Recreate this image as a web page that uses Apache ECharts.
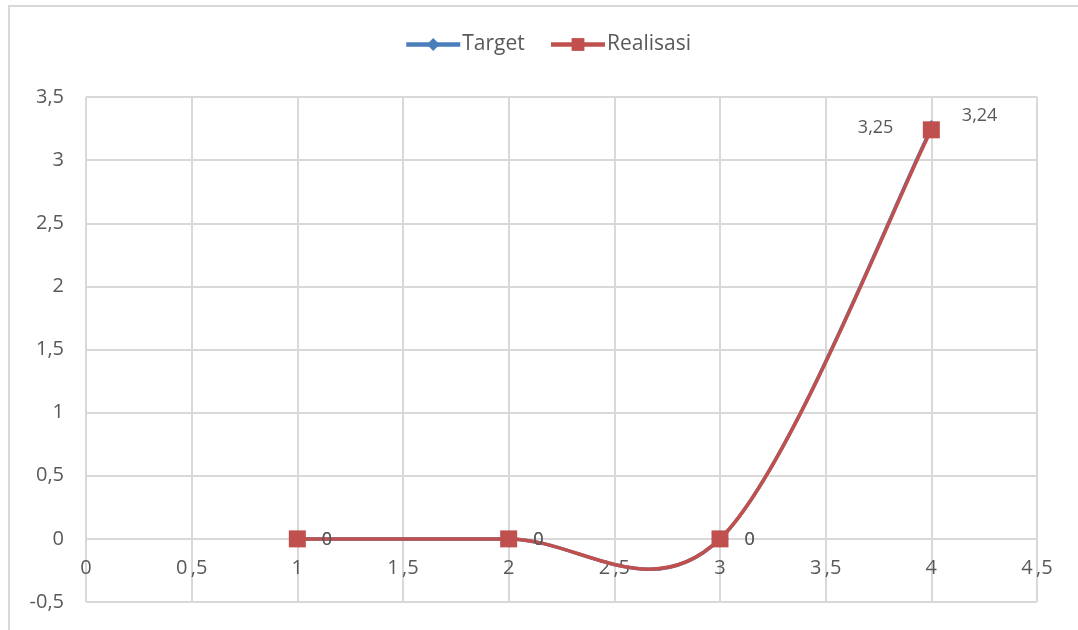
<!DOCTYPE html>
<html><head><meta charset="utf-8">
<script src="https://cdn.jsdelivr.net/npm/echarts@6/dist/echarts.min.js"></script>
<style>html,body{margin:0;padding:0;background:#fff;overflow:hidden}#c{width:1078px;height:630px}
#b{position:absolute;left:8px;top:5px;width:1100px;height:700px;border:2px solid #d9d9d9;box-sizing:border-box;pointer-events:none}</style>
</head><body><div id="c"></div><div id="b"></div>
<script>
const xValues = [1, 2, 3, 4];
const targetValues = [0, 0, 0, 3.25];
const realisasiValues = [0, 0, 0, 3.24];
const seriesNames = ['Target', 'Realisasi'];
const colors = ['#4a7ebb', '#c0504d'];

const fmt = v => String(v).replace('.', ',');
const fmtX = v => String(v).replace('.', '\u2009,');
const txt = '#595959';
const font = 'Open Sans';

const gridTop = 97, gridBottom = 28, chartH = 630;
const yMin = -0.5, yMax = 3.5;
// distance from the bottom edge (yMin) up to the zero line, in px
const zeroOffset = (chartH - gridTop - gridBottom) * (0 - yMin) / (yMax - yMin);

// Excel-style smoothed segment between data points i and i+1 (control points from neighbours)
function curveSeries(name, values, color, z) {
  return {
    name: name + ' curve', type: 'custom', coordinateSystem: 'cartesian2d',
    data: xValues.map((x, i) => [x, values[i]]),
    encode: { x: 0, y: 1 }, z: z, silent: true,
    renderItem: (params, api) => {
      const i = params.dataIndex, n = xValues.length;
      if (i >= n - 1) return null;
      const P = k => api.coord([xValues[Math.max(0, Math.min(n - 1, k))], values[Math.max(0, Math.min(n - 1, k))]]);
      const p0 = P(i - 1), p1 = P(i), p2 = P(i + 1), p3 = P(i + 2);
      return {
        type: 'bezierCurve',
        shape: {
          x1: p1[0], y1: p1[1], x2: p2[0], y2: p2[1],
          cpx1: p1[0] + (p2[0] - p0[0]) / 6, cpy1: p1[1] + (p2[1] - p0[1]) / 6,
          cpx2: p2[0] - (p3[0] - p1[0]) / 6, cpy2: p2[1] - (p3[1] - p1[1]) / 6
        },
        style: { stroke: color, lineWidth: 3.5, fill: null, lineCap: 'round' }
      };
    }
  };
}

const chart = echarts.init(document.getElementById('c'));
chart.setOption({
  animation: false,
  textStyle: { fontFamily: font },
  legend: {
    top: 29, left: 399, itemWidth: 54, itemHeight: 16, itemGap: 24,
    textStyle: { fontSize: 21, color: txt, fontFamily: font, padding: [0, 0, 0, -3] },
    data: seriesNames.map((n, k) => ({ name: n, lineStyle: { opacity: 1, width: 4.5, color: colors[k] } }))
  },
  grid: { left: 86, right: 41, top: gridTop, bottom: gridBottom, outerBoundsMode: 'none' },
  xAxis: {
    type: 'value', min: 0, max: 4.5, interval: 0.5,
    offset: -zeroOffset,
    axisLine: { onZero: false, show: false },
    axisTick: { show: false },
    splitLine: { lineStyle: { color: '#d9d9d9', width: 2 } },
    axisLabel: { color: txt, fontSize: 20, margin: 19, formatter: fmtX, fontFamily: font }
  },
  yAxis: {
    type: 'value', min: yMin, max: yMax, interval: 0.5,
    axisLine: { show: false }, axisTick: { show: false },
    splitLine: { lineStyle: { color: '#d9d9d9', width: 2 } },
    axisLabel: { color: txt, fontSize: 20, margin: 22, formatter: fmt, fontFamily: font }
  },
  series: [
    curveSeries(seriesNames[0], targetValues, colors[0], 2),
    curveSeries(seriesNames[1], realisasiValues, colors[1], 3),
    {
      name: seriesNames[0], type: 'line',
      data: xValues.map((x, i) => [x, targetValues[i]]),
      symbol: 'diamond', symbolSize: 17,
      lineStyle: { color: colors[0], width: 3.5, opacity: 0 },
      itemStyle: { color: colors[0] },
      label: {
        show: true, color: txt, fontSize: 18, fontFamily: font,
        formatter: p => fmt(p.value[1]),
        position: 'right', distance: 16
      },
      labelLayout: p => p.dataIndex === 3 ? { dx: -98, dy: -1 } : { dy: 1 },
      z: 4
    },
    {
      name: seriesNames[1], type: 'line',
      data: xValues.map((x, i) => [x, realisasiValues[i]]),
      symbol: 'rect', symbolSize: 17,
      lineStyle: { color: colors[1], width: 3.5, opacity: 0 },
      itemStyle: { color: colors[1] },
      label: {
        show: true, color: txt, fontSize: 18, fontFamily: font,
        formatter: p => fmt(p.value[1]),
        position: 'right', distance: 16
      },
      labelLayout: p => p.dataIndex === 3 ? { dx: 6, dy: -14 } : { dy: 1 },
      z: 5
    }
  ]
});
</script></body></html>
